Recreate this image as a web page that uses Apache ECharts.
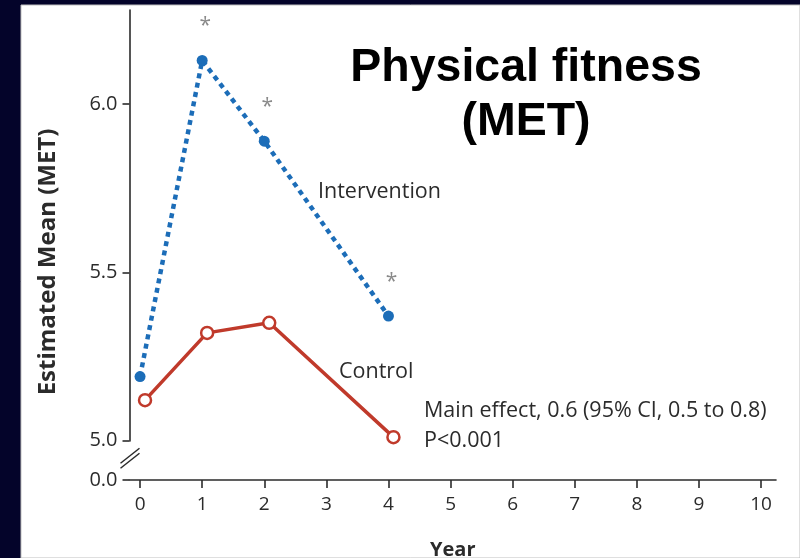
<!DOCTYPE html>
<html><head><meta charset="utf-8">
<script src="https://cdn.jsdelivr.net/npm/echarts@6/dist/echarts.min.js"></script>
<style>html,body{margin:0;padding:0;background:#04042a;}#c{width:800px;height:558px;}</style>
</head><body><div id="c"></div>
<script>
// ---- data ----
const titleText = 'Physical fitness\n(MET)';
const yAxisTitle = 'Estimated Mean (MET)';
const xAxisTitle = 'Year';
const interventionName = 'Intervention';
const controlName = 'Control';
const interventionX = [0, 1, 2, 4];
const interventionY = [5.19, 6.13, 5.89, 5.37];
const interventionSig = [false, true, true, true];
const controlX = [0.08, 1.08, 2.08, 4.08];
const controlY = [5.12, 5.32, 5.35, 5.01];
const xTicks = [0, 1, 2, 3, 4, 5, 6, 7, 8, 9, 10];
const yTicks = [0, 5.0, 5.5, 6.0];
const yBreak = [0, 5.0];
const effectLines = ['Main effect, 0.6 (95% CI, 0.5 to 0.8)', 'P<0.001'];

const BLUE = '#1c6db8', RED = '#c03a2b', INK = '#2b2b2b';
const FONT = 'Open Sans';

const chart = echarts.init(document.getElementById('c'), null, {renderer: 'canvas'});

const option = {
  backgroundColor: '#04042a',
  animation: false,
  title: {
    text: titleText, left: 521, top: 36, textAlign: 'center',
    textStyle: {fontFamily: 'Liberation Sans', fontWeight: 'bold', fontSize: 46.5, lineHeight: 54, color: '#000'}
  },
  grid: {left: 129.5, right: 24, top: 10, bottom: 78, containLabel: false, outerBoundsMode: 'none'},
  xAxis: {
    type: 'value', min: -0.17, max: 10.24,
    axisLine: {show: true, onZero: false, lineStyle: {color: INK, width: 1.6}},
    axisTick: {show: true, length: 8, customValues: xTicks, lineStyle: {color: INK, width: 1.6}},
    axisLabel: {customValues: xTicks, margin: 15, color: INK, fontFamily: FONT, fontSize: 19},
    splitLine: {show: false},
    name: xAxisTitle, nameLocation: 'middle', nameGap: 60,
    nameTextStyle: {fontFamily: FONT, fontWeight: 'bold', fontSize: 20, color: INK}
  },
  yAxis: {
    type: 'value', min: 0, max: 6.28,
    breaks: [{start: yBreak[0], end: yBreak[1], gap: '8.4%'}],
    breakArea: {show: false},
    axisLine: {show: true, onZero: false, lineStyle: {color: INK, width: 1.6}},
    axisTick: {show: true, length: 7, customValues: yTicks, lineStyle: {color: INK, width: 1.6}},
    axisLabel: {customValues: yTicks, margin: 12, color: INK, fontFamily: FONT, fontSize: 20,
      formatter: v => Number(v).toFixed(1)},
    splitLine: {show: false}
  },
  series: [
    {
      name: interventionName, type: 'line', z: 3,
      data: interventionX.map((x, i) => [x, interventionY[i]]),
      symbol: 'circle', symbolSize: 11,
      itemStyle: {color: BLUE},
      lineStyle: {color: BLUE, width: 4.5, type: [5, 4.5]},
      label: {
        show: true, position: 'top', distance: 18, offset: [3, 0],
        color: '#8a8a8a', fontSize: 21, fontFamily: FONT,
        formatter: p => interventionSig[p.dataIndex] ? '*' : ''
      }
    },
    {
      name: controlName, type: 'line', z: 4,
      data: controlX.map((x, i) => [x, controlY[i]]),
      symbol: 'circle', symbolSize: 12,
      itemStyle: {color: '#fff', borderColor: RED, borderWidth: 2.5},
      lineStyle: {color: RED, width: 3.5}
    }
  ]
};
chart.setOption(option);

// panel background, annotations and the axis break mark
const p0 = chart.convertToPixel({gridIndex: 0}, [0, yBreak[0]]);
const p5 = chart.convertToPixel({gridIndex: 0}, [0, yBreak[1]]);
const ax = chart.convertToPixel({gridIndex: 0}, [-0.17, 0])[0];
const by = (p0[1] + p5[1]) / 2 - 2;
const txt = (x, y, s, extra) => Object.assign({type: 'text', x, y, silent: true, z: 100,
  style: Object.assign({text: s, fill: INK, font: '21.5px "' + FONT + '"', verticalAlign: 'middle', align: 'left'}, extra || {})});
chart.setOption({
  graphic: [
    {type: 'rect', z: -100, silent: true, shape: {x: 21, y: 5, width: 779, height: 553},
      style: {fill: '#ffffff', stroke: '#bfbfbf', lineWidth: 1}},
    {type: 'line', z: 100, silent: true, shape: {x1: ax - 9, y1: by + 5, x2: ax + 10, y2: by - 10}, style: {stroke: INK, lineWidth: 1.5}},
    {type: 'line', z: 100, silent: true, shape: {x1: ax - 9, y1: by + 10, x2: ax + 10, y2: by - 5}, style: {stroke: INK, lineWidth: 1.5}},
    txt(318, 192, interventionName),
    txt(339, 372, controlName),
    txt(424, 411, effectLines[0]),
    txt(424, 441, effectLines[1]),
    {type: 'text', z: 100, silent: true, x: 48, y: 262, rotation: Math.PI / 2,
      style: {text: yAxisTitle, fill: INK, font: 'bold 24px "' + FONT + '"', align: 'center', verticalAlign: 'middle'}}
  ]
});
</script></body></html>
